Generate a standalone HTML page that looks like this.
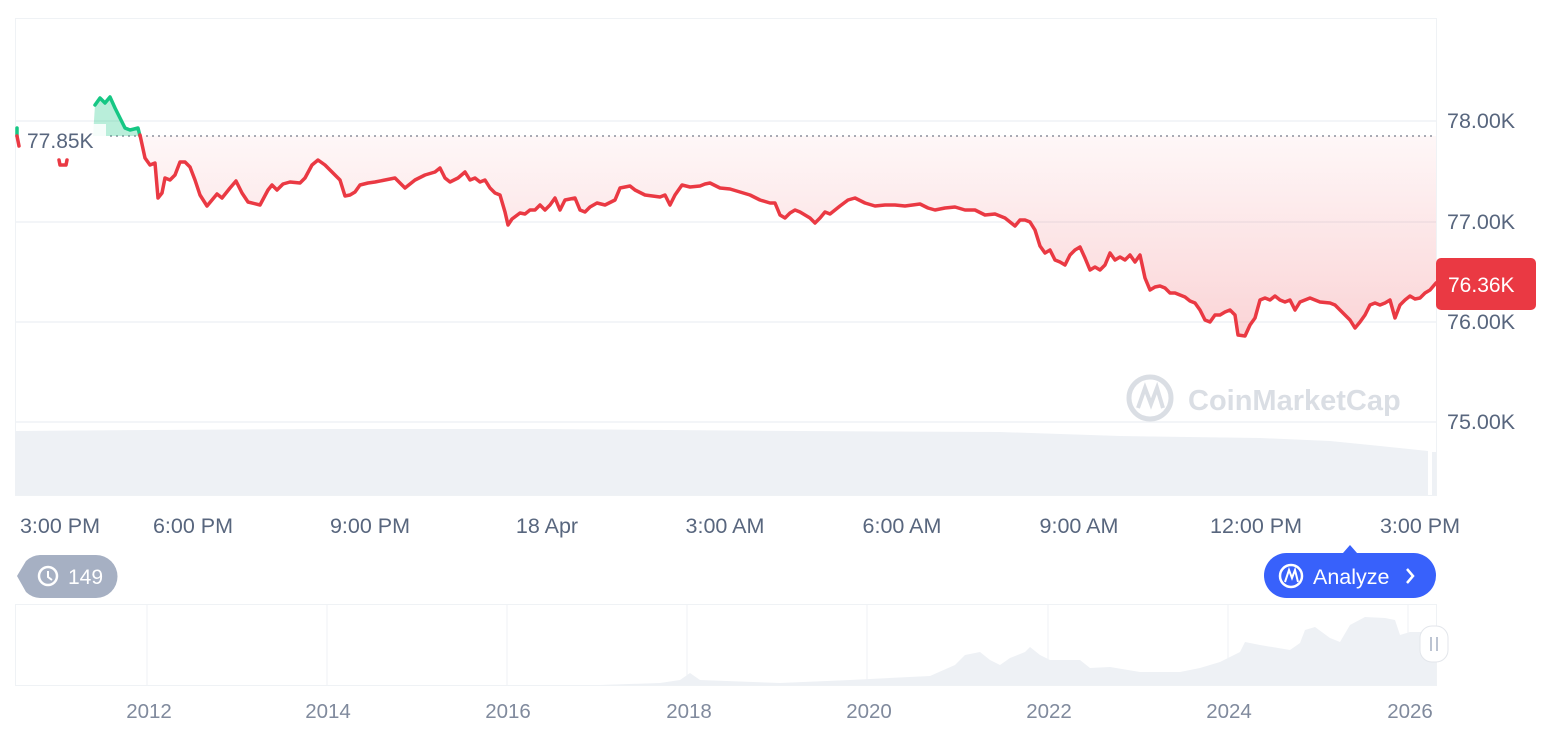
<!DOCTYPE html>
<html><head><meta charset="utf-8"><style>
body{margin:0;background:#fff;width:1566px;height:732px;overflow:hidden;font-family:"Liberation Sans",sans-serif}
svg{position:absolute;left:0;top:0}
</style></head><body>
<svg width="1566" height="732" viewBox="0 0 1566 732">
<defs>
<linearGradient id="rg" x1="0" y1="136" x2="0" y2="340" gradientUnits="userSpaceOnUse">
<stop offset="0" stop-color="#ea3943" stop-opacity="0.04"/><stop offset="1" stop-color="#ea3943" stop-opacity="0.22"/></linearGradient>
<clipPath id="below"><rect x="0" y="136" width="1566" height="400"/></clipPath>
</defs>
<rect x="15.5" y="18.5" width="1421" height="477" fill="none" stroke="#eff2f5"/>
<g stroke="#eff2f5" stroke-width="1.5">
<line x1="15" y1="121" x2="1436" y2="121"/><line x1="15" y1="222" x2="1436" y2="222"/>
<line x1="15" y1="322" x2="1436" y2="322"/><line x1="15" y1="422" x2="1436" y2="422"/>
</g>
<polygon fill="#eef1f5" points="15,495 15,431 150,430 330,429 540,429 800,431 1000,432 1120,436 1260,438 1330,441 1380,446 1428,451 1428,495"/>
<rect x="1432" y="452" width="4" height="43" fill="#eef1f5"/>
<g opacity="0.9">
<circle cx="1150" cy="398" r="21" fill="none" stroke="#d7dbe2" stroke-width="5"/>
<path d="M1138 408 L1145 388 L1151 404 L1157 388 L1163 408" fill="none" stroke="#d7dbe2" stroke-width="4"/>
<text x="1188" y="410" font-size="29" font-weight="bold" fill="#d7dbe2">CoinMarketCap</text>
</g>
<line x1="110" y1="136" x2="1436" y2="136" stroke="#8a919e" stroke-width="1.5" stroke-dasharray="2,4"/>
<polygon clip-path="url(#below)" fill="url(#rg)" points="140,136 140,135 145,158 150,165 155,163 158,198 162,193 165,178 170,180 175,175 180,162 185,162 190,167 195,180 200,195 207,206 212,200 217,194 222,198 230,188 236,181 242,193 248,202 260,205 268,190 272,185 277,190 283,184 290,182 300,183 305,178 312,165 318,160 325,165 333,173 340,180 345,196 350,195 355,192 360,185 368,183 375,182 385,180 395,178 405,188 410,184 415,180 425,175 435,172 440,168 445,178 450,182 458,178 465,172 470,180 475,178 480,182 485,180 490,188 495,193 500,195 505,212 508,225 512,219 520,213 525,214 530,210 535,210 540,205 545,210 550,205 555,198 560,210 565,200 575,198 580,210 585,212 590,207 597,203 605,205 615,200 620,188 630,186 635,190 645,195 660,197 665,195 670,205 675,195 682,185 690,187 700,186 705,184 710,183 720,188 730,189 740,192 750,195 760,200 770,203 775,203 780,215 785,218 790,213 795,210 800,212 810,218 815,223 820,218 825,212 830,214 840,206 848,200 855,198 865,203 875,206 885,205 895,205 905,206 920,204 928,208 935,210 945,208 955,207 965,210 975,210 985,215 995,214 1005,218 1010,222 1015,226 1020,220 1025,220 1030,222 1035,230 1040,246 1045,253 1050,250 1055,260 1060,262 1065,265 1070,255 1075,250 1080,247 1085,258 1090,270 1095,267 1100,270 1105,265 1110,253 1115,260 1120,257 1125,260 1130,255 1135,262 1140,255 1145,278 1150,290 1155,287 1160,286 1165,288 1170,293 1175,293 1180,295 1185,297 1190,301 1195,303 1200,310 1205,320 1210,322 1215,315 1220,315 1225,312 1230,310 1235,315 1238,335 1245,336 1250,325 1255,318 1260,300 1265,298 1270,300 1275,296 1280,300 1285,302 1290,300 1295,310 1300,302 1310,298 1315,300 1320,302 1330,303 1335,305 1340,310 1345,315 1350,320 1355,328 1360,322 1365,315 1370,305 1375,303 1380,305 1385,303 1390,300 1395,318 1400,305 1405,300 1410,296 1415,299 1420,298 1425,293 1430,290 1436,283 1436,136"/>
<polygon fill="#16c784" fill-opacity="0.3" points="93,136 95,105 100,98 105,103 110,97 115,108 120,118 125,128 130,130 138,128 140,136"/>
<g fill="none" stroke-width="3.5" stroke-linejoin="round" stroke-linecap="round">
<polyline stroke="#16c784" points="95,105 100,98 105,103 110,97 115,108 120,118 125,128 130,130 138,128 140,136"/>
<line x1="17" y1="128" x2="17" y2="136" stroke="#16c784"/>
<line x1="17" y1="136" x2="19" y2="146" stroke="#ea3943"/>
<polyline stroke="#ea3943" points="59,160 60,165 66,165 67,160"/>
<polyline stroke="#ea3943" points="140,136 140,135 145,158 150,165 155,163 158,198 162,193 165,178 170,180 175,175 180,162 185,162 190,167 195,180 200,195 207,206 212,200 217,194 222,198 230,188 236,181 242,193 248,202 260,205 268,190 272,185 277,190 283,184 290,182 300,183 305,178 312,165 318,160 325,165 333,173 340,180 345,196 350,195 355,192 360,185 368,183 375,182 385,180 395,178 405,188 410,184 415,180 425,175 435,172 440,168 445,178 450,182 458,178 465,172 470,180 475,178 480,182 485,180 490,188 495,193 500,195 505,212 508,225 512,219 520,213 525,214 530,210 535,210 540,205 545,210 550,205 555,198 560,210 565,200 575,198 580,210 585,212 590,207 597,203 605,205 615,200 620,188 630,186 635,190 645,195 660,197 665,195 670,205 675,195 682,185 690,187 700,186 705,184 710,183 720,188 730,189 740,192 750,195 760,200 770,203 775,203 780,215 785,218 790,213 795,210 800,212 810,218 815,223 820,218 825,212 830,214 840,206 848,200 855,198 865,203 875,206 885,205 895,205 905,206 920,204 928,208 935,210 945,208 955,207 965,210 975,210 985,215 995,214 1005,218 1010,222 1015,226 1020,220 1025,220 1030,222 1035,230 1040,246 1045,253 1050,250 1055,260 1060,262 1065,265 1070,255 1075,250 1080,247 1085,258 1090,270 1095,267 1100,270 1105,265 1110,253 1115,260 1120,257 1125,260 1130,255 1135,262 1140,255 1145,278 1150,290 1155,287 1160,286 1165,288 1170,293 1175,293 1180,295 1185,297 1190,301 1195,303 1200,310 1205,320 1210,322 1215,315 1220,315 1225,312 1230,310 1235,315 1238,335 1245,336 1250,325 1255,318 1260,300 1265,298 1270,300 1275,296 1280,300 1285,302 1290,300 1295,310 1300,302 1310,298 1315,300 1320,302 1330,303 1335,305 1340,310 1345,315 1350,320 1355,328 1360,322 1365,315 1370,305 1375,303 1380,305 1385,303 1390,300 1395,318 1400,305 1405,300 1410,296 1415,299 1420,298 1425,293 1430,290 1436,283"/>
</g>
<rect x="22" y="124" width="84" height="28" fill="#fff" fill-opacity="0.85"/>
<text x="27" y="148" font-size="21" fill="#58667e">77.85K</text>
<g font-size="21.5" fill="#58667e">
<text x="1447" y="128">78.00K</text><text x="1447" y="229">77.00K</text>
<text x="1447" y="329">76.00K</text><text x="1447" y="429">75.00K</text>
</g>
<rect x="1436" y="258" width="100" height="52" rx="5" fill="#ea3943"/>
<text x="1448" y="292" font-size="21" fill="#fff">76.36K</text>
<g font-size="21.5" fill="#58667e" text-anchor="middle">
<text x="60" y="533">3:00 PM</text><text x="193" y="533">6:00 PM</text><text x="370" y="533">9:00 PM</text>
<text x="547" y="533">18 Apr</text><text x="725" y="533">3:00 AM</text><text x="902" y="533">6:00 AM</text>
<text x="1079" y="533">9:00 AM</text><text x="1256" y="533">12:00 PM</text><text x="1420" y="533">3:00 PM</text>
</g>
<path d="M40 555 H96 A21.5 21.5 0 0 1 96 598 H40 A21.5 21.5 0 0 1 26 592 L17 576 L26 561 A21.5 21.5 0 0 1 40 555Z" fill="#a6b0c3"/>
<circle cx="48" cy="576" r="9" fill="none" stroke="#fff" stroke-width="2.5"/>
<path d="M48 571 V577 L52 580" fill="none" stroke="#fff" stroke-width="2"/>
<text x="68" y="584" font-size="21" fill="#fff">149</text>
<path d="M1343 553 L1350 545 L1357 553Z" fill="#3861fb"/>
<rect x="1264" y="553" width="172" height="45" rx="22.5" fill="#3861fb"/>
<circle cx="1291" cy="576" r="11" fill="none" stroke="#fff" stroke-width="2.5"/>
<path d="M1285 582 L1289 570 L1292 578 L1295 570 L1298 582" fill="none" stroke="#fff" stroke-width="2"/>
<text x="1313" y="584" font-size="21.5" fill="#fff">Analyze</text>
<path d="M1407 569 L1413 576 L1407 583" fill="none" stroke="#fff" stroke-width="2.5"/>
<rect x="15.5" y="604.5" width="1421" height="81" fill="none" stroke="#eff2f5"/>
<g stroke="#eff2f5"><line x1="147" y1="605" x2="147" y2="685"/><line x1="327" y1="605" x2="327" y2="685"/><line x1="507" y1="605" x2="507" y2="685"/><line x1="687" y1="605" x2="687" y2="685"/><line x1="867" y1="605" x2="867" y2="685"/><line x1="1048" y1="605" x2="1048" y2="685"/><line x1="1228" y1="605" x2="1228" y2="685"/><line x1="1408" y1="605" x2="1408" y2="685"/></g>
<polygon fill="#eef1f5" points="15,685 600,685 660,683 680,680 690,673 700,680 780,683 850,680 930,676 955,665 965,655 980,652 990,660 1000,665 1010,658 1025,652 1030,647 1040,655 1050,660 1080,660 1090,668 1110,667 1140,672 1180,672 1200,668 1220,662 1240,652 1245,642 1260,645 1290,650 1300,643 1305,630 1315,627 1330,638 1340,642 1350,625 1365,617 1385,618 1395,620 1400,635 1410,632 1420,632 1436,630 1436,685"/>
<rect x="1420" y="626" width="28" height="36" rx="12" fill="#fff" stroke="#e3e6eb"/>
<line x1="1431" y1="637" x2="1431" y2="651" stroke="#a6b0c3" stroke-width="1.5"/><line x1="1437" y1="637" x2="1437" y2="651" stroke="#a6b0c3" stroke-width="1.5"/>
<g font-size="20.5" fill="#808a9d" text-anchor="middle">
<text x="149" y="718">2012</text><text x="328" y="718">2014</text><text x="508" y="718">2016</text><text x="689" y="718">2018</text>
<text x="869" y="718">2020</text><text x="1049" y="718">2022</text><text x="1229" y="718">2024</text><text x="1410" y="718">2026</text>
</g>
</svg>
</body></html>
